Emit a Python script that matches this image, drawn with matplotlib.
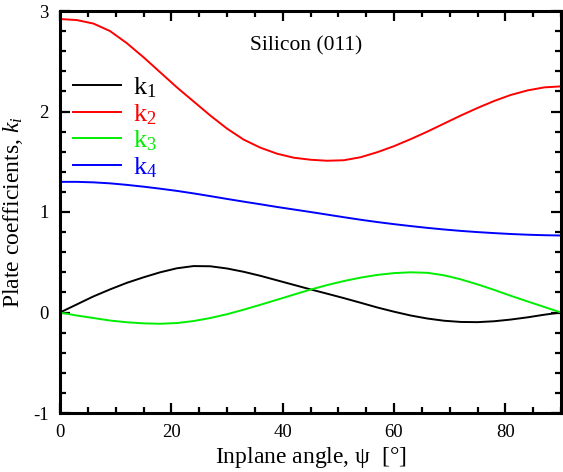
import numpy as np
import matplotlib
matplotlib.use("Agg")
import matplotlib.pyplot as plt
from matplotlib.ticker import MultipleLocator

# -----------------------------
# Data (psi in degrees)
# -----------------------------
psi = [0, 3, 6, 9, 12, 15, 18, 21, 24, 27, 30, 33, 36, 39, 42, 45,
       48, 51, 54, 57, 60, 63, 66, 69, 72, 75, 78, 81, 84, 87, 90]

k1 = [0.0, 0.08, 0.16, 0.23, 0.295, 0.35, 0.40, 0.44, 0.462, 0.46, 0.438,
      0.405, 0.365, 0.32, 0.275, 0.23, 0.187, 0.143, 0.097, 0.05, 0.008,
      -0.03, -0.06, -0.082, -0.094, -0.096, -0.087, -0.07, -0.048, -0.022, 0.0]

k2 = [2.92, 2.91, 2.875, 2.80, 2.68, 2.54, 2.39, 2.24, 2.10, 1.96, 1.83,
      1.72, 1.64, 1.58, 1.54, 1.52, 1.51, 1.515, 1.545, 1.595, 1.655,
      1.725, 1.80, 1.88, 1.96, 2.035, 2.105, 2.165, 2.21, 2.24, 2.25]

k3 = [0.0, -0.03, -0.055, -0.08, -0.097, -0.108, -0.112, -0.105, -0.085, -0.055, -0.017,
      0.028, 0.077, 0.127, 0.178, 0.228, 0.273, 0.313, 0.347, 0.374, 0.392,
      0.40, 0.395, 0.37, 0.33, 0.28, 0.225, 0.166, 0.11, 0.055, 0.0]

k4 = [1.30, 1.30, 1.295, 1.285, 1.27, 1.252, 1.232, 1.21, 1.185, 1.158, 1.13,
      1.103, 1.077, 1.05, 1.025, 1.00, 0.974, 0.948, 0.923, 0.90, 0.879,
      0.86, 0.842, 0.826, 0.812, 0.80, 0.79, 0.781, 0.774, 0.769, 0.766]

series = [(k1, "black", r"k$_1$"),
          (k2, "#ff0000", r"k$_2$"),
          (k3, "#00ee00", r"k$_3$"),
          (k4, "#0000ff", r"k$_4$")]

# -----------------------------
# Style
# -----------------------------
plt.rcParams.update({
    "font.family": ["Liberation Serif", "DejaVu Serif"],
    "mathtext.fontset": "custom",
    "mathtext.rm": "Liberation Serif",
    "mathtext.it": "Liberation Serif:italic",
    "mathtext.bf": "Liberation Serif:bold",
    "axes.unicode_minus": False,
})

fig = plt.figure(figsize=(5.63, 4.72), dpi=100)
ax = fig.add_axes([60 / 563, 59 / 472, 501 / 563, 402 / 472])

for vals, color, label in series:
    ax.plot(psi, vals, color=color, linewidth=1.4, label=label)

ax.set_xlim(0, 90)
ax.set_ylim(-1, 3)
ax.xaxis.set_major_locator(MultipleLocator(20))
ax.xaxis.set_minor_locator(MultipleLocator(5))
ax.yaxis.set_major_locator(MultipleLocator(1))
ax.yaxis.set_minor_locator(MultipleLocator(0.2))
ax.tick_params(which="both", direction="in", top=True, right=True,
               width=1.6, labelsize=13.5)
ax.tick_params(axis="x", which="both", pad=8)
ax.tick_params(axis="y", which="both", pad=8)
ax.tick_params(which="major", length=7.5)
ax.tick_params(which="minor", length=4)
for sp in ax.spines.values():
    sp.set_linewidth(2.2)

ax.set_xlabel(r"Inplane angle, $\mathrm{\psi}$  [°]", fontsize=17, labelpad=3)
ax.set_ylabel(r"Plate coefficients, $k_i$", fontsize=17, labelpad=6)

ax.text(0.491, 0.913, "Silicon (011)", transform=ax.transAxes,
        ha="center", va="center", fontsize=15.5)

leg = ax.legend(loc="upper left", bbox_to_anchor=(0.0, 0.872), frameon=False,
                fontsize=19, handlelength=1.8, handletextpad=0.45,
                labelspacing=0.07, borderaxespad=0.1, labelcolor="linecolor")

fig.savefig("out.png", dpi=100)
